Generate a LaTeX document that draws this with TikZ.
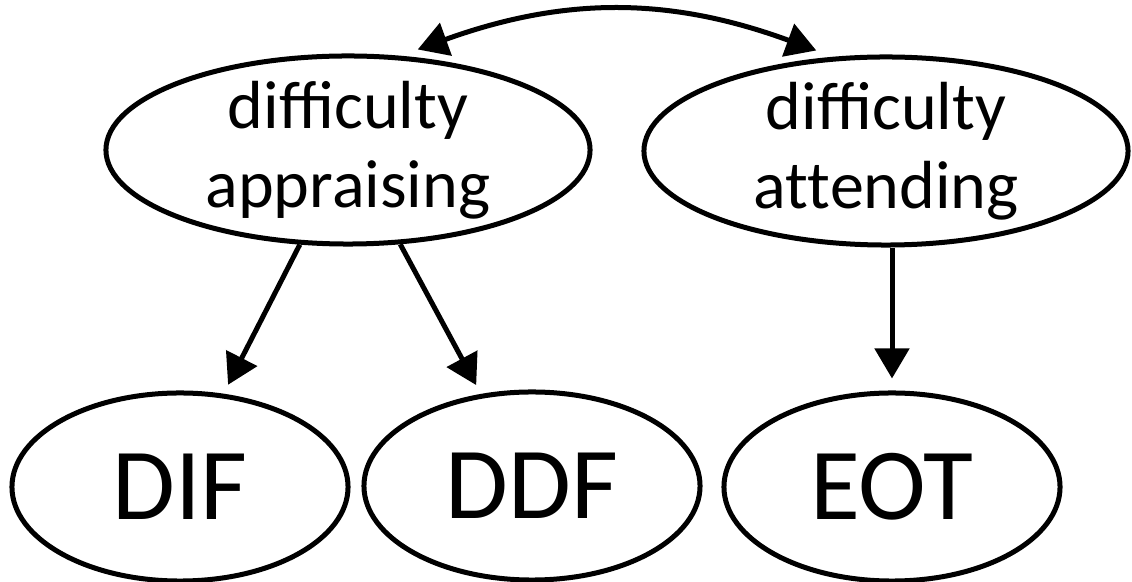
\documentclass[tikz,border=0pt]{standalone}
\usepackage{fontspec}
\setmainfont{Carlito}
\usetikzlibrary{shapes.geometric,arrows.meta}
\newcommand{\factorFont}[0]{\fontsize{48.4}{56.2}\selectfont}
\newcommand{\scoreFont}[0]{\fontsize{72.6}{80}\selectfont}

\begin{document}
\begin{tikzpicture}[x=0.025cm, y=-0.025cm, line width=0.125cm,
    >={Triangle[length=0.75cm,width=0.85cm]}]
  \tikzset{every node/.style={draw, ellipse, inner sep=0pt},
    factor/.style={minimum width=12.1cm, minimum height=4.7cm,
      inner ysep=-0.25cm, align=center, font=\factorFont},
    score/.style={minimum width=8.4cm, minimum height=4.7cm, font=\scoreFont}}
  \useasboundingbox (0,0) rectangle (1132,582);
  \node[factor] (appraising) at (348,150) {difficulty\\appraising};
  \node[factor] (attending) at (886,151) {difficulty\\at\kern0pt tending};
  \node[score] (dif) at (180,487) {DIF};
  \node[score] (ddf) at (532,486) {DDF};
  \node[score] (eot) at (892,487) {EOT};
  % latent correlation
  \draw[<->] ([yshift=0.2cm]appraising.53) to[bend left=20] ([yshift=0.2cm]attending.127);
  % loadings
  \draw[->, shorten >=0.25cm] (appraising.-117) -- (dif.65);
  \draw[->, shorten >=0.25cm] (appraising.-61) -- (ddf.119);
  \draw[->, shorten >=0.3cm] (attending.south -| eot.north) -- (eot.north);
\end{tikzpicture}
\end{document}
